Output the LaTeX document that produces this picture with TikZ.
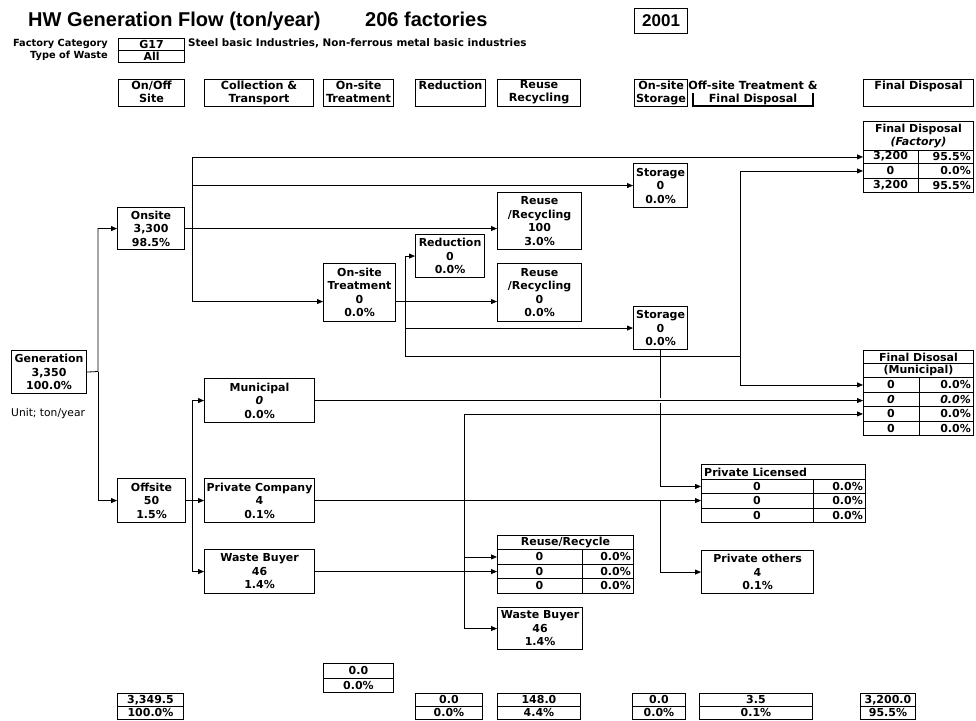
\documentclass[tikz,border=0pt]{standalone}
\usepackage{fontspec}
\setmainfont{DejaVu Sans}
\newfontfamily\arialf{Liberation Sans}
\usetikzlibrary{arrows.meta}
\tikzset{
  txt/.style={inner sep=0pt, font=\fontsize{11}{13.5}\selectfont\bfseries},
  bx/.style={txt, draw, line width=1.1pt, align=center, anchor=north west},
  cell/.style={draw, line width=0.9pt, inner sep=0pt, anchor=north west},
  cellt/.style={cell, txt, align=center},
  arr/.style={line width=0.8pt, -{Triangle[length=6pt,width=5pt]}},
  ln/.style={line width=0.8pt},
}
\newcommand{\bxn}[6]{\node[bx, minimum width=#4pt, minimum height=#5pt] (#1) at (#2,#3) {#6};}
\newcommand{\hdrbox}[6]{\node[cell, line width=1.1pt, minimum width=#4pt, minimum height=#5pt] (#1) at (#2,#3) {};
  \node[txt, font=\fontsize{11.2}{13}\selectfont\bfseries, align=center, anchor=north] (#1-t) at ([yshift=-1.5pt]#1.north) {#6};}
\newcommand{\trow}[8]{\node[cell, minimum width=#4pt, minimum height=#5pt] (#1) at (#2,#3) {};
  \draw[line width=0.9pt] (#6,#3) -- (#6,#3+#5);
  \node[txt] at ({(#2+#6)/2},#3+#5/2) {#7};
  \node[txt, anchor=east] at (#2+#4-2,#3+#5/2) {#8};}
\newcommand{\srow}[6]{\node[cellt, minimum width=#4pt, minimum height=#5pt] (#1) at (#2,#3) {#6};}
\begin{document}
\begin{tikzpicture}[x=1pt,y=-1pt]
\fill[white] (0,0) rectangle (976,720);
\useasboundingbox (0,0) rectangle (976,720);

% ---------- title area ----------
\node[inner sep=0pt, anchor=base west, font=\arialf\bfseries\fontsize{20}{24}\selectfont] (title) at (28,27) {HW Generation Flow (ton/year)};
\node[inner sep=0pt, anchor=base west, font=\arialf\bfseries\fontsize{20}{24}\selectfont] (fact) at (365,27) {206 factories};
\node[draw, line width=1.1pt, anchor=north west, inner sep=0pt, minimum width=53pt, minimum height=25pt, font=\arialf\bfseries\fontsize{17}{20}\selectfont] (year) at (634,8) {2001};
\node[txt, anchor=base east, font=\fontsize{9.8}{12}\selectfont\bfseries] (fc) at (108,46) {Factory Category};
\node[txt, anchor=base east, font=\fontsize{9.8}{12}\selectfont\bfseries] (tw) at (108,58) {Type of Waste};
\node[bx, minimum width=66pt, minimum height=12pt] (cat) at (118,38) {G17};
\node[bx, minimum width=66pt, minimum height=12pt] (wst) at (118,50) {All};
\node[txt, anchor=base west, font=\fontsize{10.4}{12}\selectfont\bfseries] (catname) at (188,46) {Steel basic Industries, Non-ferrous metal basic industries};

% ---------- header row ----------
\hdrbox{h1}{118}{79}{66}{27}{On/Off\\Site}
\hdrbox{h2}{204}{79}{109}{27}{Collection \&\\Transport}
\hdrbox{h3}{323}{79}{70}{27}{On-site\\Treatment}
\hdrbox{h4}{415}{79}{70}{27}{Reduction}
\hdrbox{h5}{497}{79}{83}{27}{Reuse\\Recycling}
\hdrbox{h6}{634}{79}{53}{27}{On-site\\Storage}
\node[txt, font=\fontsize{11.2}{13}\selectfont\bfseries, align=center, anchor=north] (h7) at (753,80.5) {Off-site Treatment \&\\Final Disposal};
\draw[line width=1.1pt] (693,93) -- (693,106) -- (813,106) -- (813,93);
\hdrbox{h8}{863}{79}{110}{27}{Final Disposal}

% ---------- main boxes ----------
\bxn{gen}{11}{350}{75}{43}{Generation\\3,350\\100.0\%}
\node[inner sep=0pt, anchor=base west, font=\fontsize{10.7}{13}\selectfont] (unit) at (11,416) {Unit; ton/year};
\bxn{onsite}{117}{207}{67}{42}{Onsite\\3,300\\98.5\%}
\bxn{offsite}{117}{478}{68}{44}{Offsite\\50\\1.5\%}
\bxn{ost}{323}{263}{72}{58}{On-site\\Treatment\\0\\0.0\%}
\bxn{red}{415}{234}{69}{43}{Reduction\\0\\0.0\%}
\bxn{rr1}{497}{192}{84}{57}{Reuse\\/Recycling\\100\\3.0\%}
\bxn{rr2}{497}{263}{84}{58}{Reuse\\/Recycling\\0\\0.0\%}
\bxn{st1}{633}{163}{54}{44}{Storage\\0\\0.0\%}
\bxn{st2}{633}{306}{54}{43}{Storage\\0\\0.0\%}
\bxn{mun}{204}{378}{110}{44}{Municipal\\\textit{0}\\0.0\%}
\bxn{pc}{204}{478}{110}{44}{Private Company\\4\\0.1\%}
\bxn{wb}{204}{549}{110}{44}{Waste Buyer\\46\\1.4\%}
\bxn{po}{701}{550}{112}{43}{Private others\\4\\0.1\%}
\bxn{wb2}{497}{607}{85}{42}{Waste Buyer\\46\\1.4\%}

% ---------- tables ----------
\node[cellt, minimum width=110pt, minimum height=29pt] (fdf-h) at (863,121) {Final Disposal\\\textit{(Factory)}};
\trow{fdf-r1}{863}{150}{110}{13}{918}{3,200}{95.5\%}
\trow{fdf-r2}{863}{163}{110}{15}{918}{0}{0.0\%}
\trow{fdf-r3}{863}{178}{110}{14}{918}{3,200}{95.5\%}

\node[cellt, minimum width=110pt, minimum height=13pt] (fdm-h1) at (863,350) {Final Disosal};
\node[cellt, minimum width=110pt, minimum height=14pt] (fdm-h2) at (863,363) {(Municipal)};
\trow{fdm-r1}{863}{377}{110}{15}{919}{0}{0.0\%}
\trow{fdm-r2}{863}{392}{110}{14}{919}{\textit{0}}{\textit{0.0\%}}
\trow{fdm-r3}{863}{406}{110}{15}{919}{0}{0.0\%}
\trow{fdm-r4}{863}{421}{110}{14}{919}{0}{0.0\%}

\node[cell, minimum width=164pt, minimum height=15pt] (pl-h) at (701,464) {};
\node[txt, anchor=west] (pl-t) at ([xshift=3pt]pl-h.west) {Private Licensed};
\trow{pl-r1}{701}{479}{164}{14}{813}{0}{0.0\%}
\trow{pl-r2}{701}{493}{164}{15}{813}{0}{0.0\%}
\trow{pl-r3}{701}{508}{164}{14}{813}{0}{0.0\%}

\node[cellt, minimum width=136pt, minimum height=14pt] (rr-h) at (497,535) {Reuse/Recycle};
\trow{rr-r1}{497}{549}{136}{15}{582}{0}{0.0\%}
\trow{rr-r2}{497}{564}{136}{14}{582}{0}{0.0\%}
\trow{rr-r3}{497}{578}{136}{15}{582}{0}{0.0\%}

% ---------- bottom summary boxes ----------
\srow{b1a}{117}{693}{66}{13}{3,349.5}
\srow{b1b}{117}{706}{66}{13}{100.0\%}
\srow{b2a}{323}{663}{70}{15}{0.0}
\srow{b2b}{323}{678}{70}{14}{0.0\%}
\srow{b3a}{415}{693}{67}{13}{0.0}
\srow{b3b}{415}{706}{67}{13}{0.0\%}
\srow{b4a}{497}{693}{83}{13}{148.0}
\srow{b4b}{497}{706}{83}{13}{4.4\%}
\srow{b5a}{632}{693}{53}{13}{0.0}
\srow{b5b}{632}{706}{53}{13}{0.0\%}
\srow{b6a}{699}{693}{113}{13}{3.5}
\srow{b6b}{699}{706}{113}{13}{0.1\%}
\srow{b7a}{860}{693}{55}{13}{3,200.0}
\srow{b7b}{860}{706}{55}{13}{95.5\%}

% ---------- connectors ----------
\coordinate (jg) at (98,371.5);
\draw[arr] (gen.east) -- (jg) |- (onsite.west);
\draw[arr] (jg) |- (offsite.west);

\coordinate (j1) at (192,228);
\draw[arr] (onsite.east) -- (onsite.east -| rr1.west);
\draw[arr] (j1) |- (fdf-r1.west);
\draw[arr] (j1) |- (st1.west);
\draw[arr] (j1) |- ([yshift=-9pt]ost.west);

\coordinate (j2) at (405,301);
\draw[arr] ([yshift=-9pt]ost.east) -- ([yshift=-9pt]rr2.west);
\draw[arr] (j2) |- (red.west);
\draw[arr] (j2) |- (st2.west);
\coordinate (j3) at (740,356);
\draw[ln] (j2) |- (j3);
\draw[arr] (j3) |- (fdf-r2.west);
\draw[arr] (j3) |- (fdm-r1.west);

\draw[arr] (st2.south) |- (pl-r1.west);

\coordinate (j6) at (192,500);
\draw[arr] (offsite.east) -- (offsite.east -| pc.west);
\draw[arr] (j6) |- (mun.west);
\draw[arr] (j6) |- (wb.west);

\draw[arr, preaction={draw=white, -, line width=5pt, shorten >=8pt, shorten <=8pt}] (mun.east) -- (mun.east -| fdm-r2.west);
\draw[arr] (pc.east) -- (pc.east -| pl-r2.west);
\coordinate (j4) at (660,500);
\draw[arr] (j4) |- (po.west);
\draw[arr] (wb.east) -- (wb.east -| rr-r2.west);
\coordinate (j5) at (464,571);
\draw[arr] (j5) |- (fdm-r3.west);
\draw[arr] (j5) |- (rr-r1.west);
\draw[arr] (j5) |- (wb2.west);
\end{tikzpicture}
\end{document}
